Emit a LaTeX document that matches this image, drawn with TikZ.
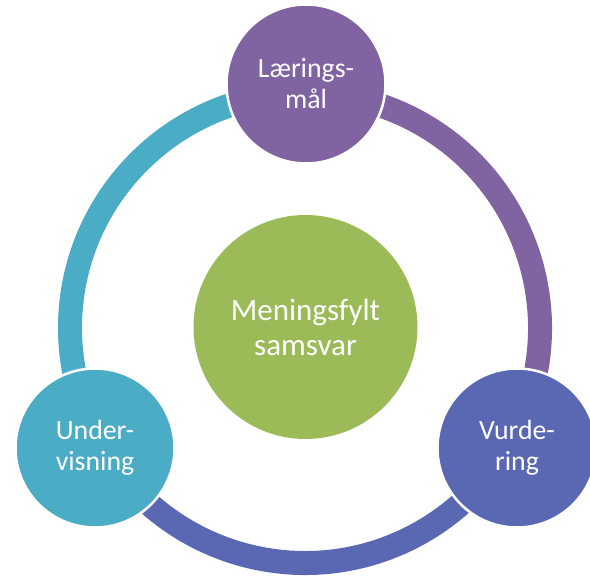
\documentclass[tikz,border=0pt]{standalone}
\usepackage{fontspec}
\setmainfont{Carlito}
\definecolor{cteal}{HTML}{4BACC6}
\definecolor{cpurple}{HTML}{8064A2}
\definecolor{cblue}{HTML}{5A67B3}
\definecolor{cgreen}{HTML}{9BBB59}
\begin{document}
\begin{tikzpicture}[x=1pt,y=1pt,
  ringarc/.style={line width=24pt},
  satellite/.style={circle, draw=white, line width=2.5pt, minimum size=159pt,
    inner sep=0pt, text=white, align=center, font=\fontsize{27.8}{31}\selectfont},
  hub/.style={circle, fill=cgreen, minimum size=224pt, inner sep=0pt,
    text=white, align=center, font=\fontsize{31}{35}\selectfont}]
\useasboundingbox (0,0) rectangle (590,576);
\clip (0,0) rectangle (590,576);
\coordinate (ringc) at (305,248);
% ring segments
\draw[ringarc, cteal]   ([shift={(90:235)}]ringc)  arc[start angle=90,  end angle=210, radius=235];
\draw[ringarc, cpurple] ([shift={(-30:235)}]ringc) arc[start angle=-30, end angle=90,  radius=235];
\draw[ringarc, cblue]   ([shift={(210:235)}]ringc) arc[start angle=210, end angle=330, radius=235];
% circles
\node[hub] (hub) at (305.5,249) {Meningsfylt\\samsvar};
\node[satellite, fill=cpurple] (maal) at (306,492) {Lærings-\\mål};
\node[satellite, fill=cteal] (undervisning) at (95,128) {Under-\\visning};
\node[satellite, fill=cblue] (vurdering) at (517,128) {Vurde-\\ring};
\end{tikzpicture}
\end{document}
